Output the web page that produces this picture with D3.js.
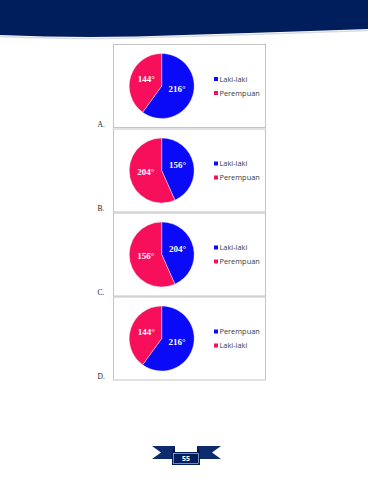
<!DOCTYPE html>
<html><head><meta charset="utf-8">
<script src="https://cdn.jsdelivr.net/npm/d3@7"></script>
<style>html,body{margin:0;padding:0;background:#fff;}svg{display:block;}</style>
</head><body>
<script>
const panelLetters = ["A.", "B.", "C.", "D."];
const seriesNames = [["Laki-laki","Perempuan"],["Laki-laki","Perempuan"],["Laki-laki","Perempuan"],["Perempuan","Laki-laki"]];
const sliceValues = [[216,144],[156,204],[156,204],[216,144]];
const sliceLabels = [["216°","144°"],["156°","204°"],["204°","156°"],["216°","144°"]];
const pageNumber = "55";
const headerEdge = [[0,35],[90,37],[184,35],[280,32],[368,29]];

const W = 368, H = 480;
const blue = "#0A0AF8", pink = "#F70F5C", navy = "#001E5C";
const svg = d3.select("body").append("svg").attr("width", W).attr("height", H);

// header
const lineGen = d3.line().curve(d3.curveNatural);
svg.append("path").attr("d", lineGen(headerEdge.map(p=>[p[0],p[1]+1.5])))
  .attr("fill","none").attr("stroke","#d8dbe2").attr("stroke-width",1.5);
svg.append("path").attr("d", "M368,0L0,0L" + lineGen(headerEdge).slice(1) + "Z").attr("fill", navy);

// panels
const boxX = 113, boxW = 152, boxH = 83, boxTops = [44,128.5,212.5,296.5];
const pie = d3.pie().sort(null).value(d=>d);
const r = 32.5;
const arc = d3.arc().innerRadius(0).outerRadius(r);
const labelArc = d3.arc().innerRadius(r*0.5).outerRadius(r*0.5);
const color = d3.scaleOrdinal().domain([0,1]).range([blue, pink]);

panelLetters.forEach((letter, i) => {
  const top = boxTops[i];
  const g = svg.append("g");
  g.append("rect").attr("x", boxX+0.5).attr("y", top+0.5).attr("width", boxW).attr("height", boxH)
    .attr("fill","#fff").attr("stroke","#c4c4c4").attr("stroke-width",1);
  const cx = 161.7, cy = top + 42;
  const pg = g.append("g").attr("transform", `translate(${cx},${cy})`);
  const arcs = pie(sliceValues[i]);
  pg.selectAll("path").data(arcs).join("path")
    .attr("d", arc).attr("fill", (d,j)=>color(j)).attr("stroke","#fff").attr("stroke-width",0.4);
  pg.selectAll("text").data(arcs).join("text")
    .attr("x", d=>labelArc.centroid(d)[0]).attr("y", d=>labelArc.centroid(d)[1] - 2)
    .attr("text-anchor","middle").attr("dy","0.35em")
    .attr("font-family","'Liberation Serif', 'DejaVu Serif', serif").attr("font-weight","bold")
    .attr("font-size", 9).attr("fill","#fff").text((d,j)=>sliceLabels[i][j]);
  // legend
  const lg = g.append("g").attr("transform", `translate(214,${cy-7})`);
  seriesNames[i].forEach((name, j) => {
    lg.append("rect").attr("x",0).attr("y", j*14 - 2).attr("width",4).attr("height",4).attr("fill", color(j));
    lg.append("text").attr("x",5.5).attr("y", j*14).attr("dy","0.35em")
      .attr("font-family","'Open Sans', 'Noto Sans', sans-serif").attr("font-size",7.4)
      .attr("fill","#3a3a3a").text(name);
  });
  svg.append("text").attr("x", 97.5).attr("y", top + boxH - 0.5)
    .attr("font-family","'Liberation Serif', serif").attr("font-size",7.5).attr("fill","#1a1a1a").text(letter);
});

// ribbon page number
const rb = svg.append("g");
rb.append("path").attr("d","M152,446L175,446L175,459L152,459L161,452.5Z").attr("fill","#0c2a6e");
rb.append("path").attr("d","M221,446L197,446L197,459L221,459L212,452.5Z").attr("fill","#0c2a6e");
rb.append("path").attr("d","M172,452L175,446L175,452Z").attr("fill","#061640");
rb.append("path").attr("d","M200,452L197,446L197,452Z").attr("fill","#061640");
rb.append("rect").attr("x",172).attr("y",452).attr("width",28).attr("height",13).attr("fill", navy);
rb.append("rect").attr("x",173.5).attr("y",453.5).attr("width",25).attr("height",10).attr("fill","none").attr("stroke","#c9d2e6").attr("stroke-width",0.6);
rb.append("text").attr("x",186).attr("y",458.5).attr("dy","0.35em").attr("text-anchor","middle")
  .attr("font-family","'Open Sans', sans-serif").attr("font-weight","bold").attr("font-size",7)
  .attr("fill","#fff").text(pageNumber);
</script>
</body></html>
